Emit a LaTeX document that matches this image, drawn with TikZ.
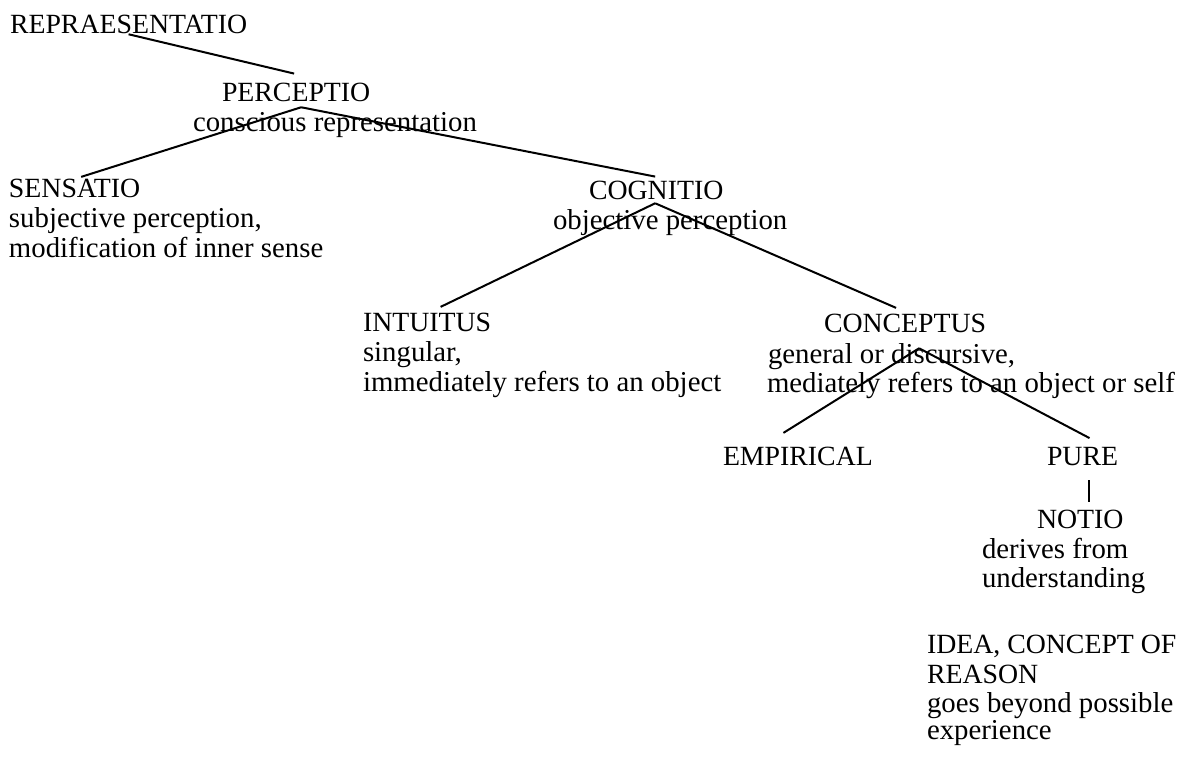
\documentclass[tikz,border=0pt]{standalone}
\usepackage{fontspec}
\setmainfont{Liberation Serif}
\usetikzlibrary{calc}
\tikzset{
  txt/.style={font=\fontsize{27.8}{30}\selectfont, inner sep=0pt, outer sep=0pt, anchor=base west},
  desc/.style={txt, font=\fontsize{28.8}{30}\selectfont},
  edge/.style={line width=2pt, black}
}
\begin{document}
\begin{tikzpicture}[x=1pt,y=-1pt]
\useasboundingbox (0,0) rectangle (1189,767);
% titles and descriptions
\node[txt] (repr) at (10,34) {REPRAESENTATIO};
\node[txt] (perc) at (222,102) {PERCEPTIO};
\node[desc] (percA) at (193,132) {conscious representation};
\node[txt] (sens) at (9,198) {SENSATIO};
\node[desc] (sensA) at (9,228) {subjective perception,};
\node[desc] (sensB) at (9,258) {modification of inner sense};
\node[txt] (cogn) at (589,200) {COGNITIO};
\node[desc] (cognA) at (553,230) {objective perception};
\node[txt] (intu) at (363,332) {INTUITUS};
\node[desc] (intuA) at (363,362) {singular,};
\node[desc] (intuB) at (363,391) {immediately refers to an object};
\node[txt] (conc) at (824,333) {CONCEPTUS};
\node[desc] (concA) at (768,363) {general or discursive,};
\node[desc] (concB) at (767,392) {mediately refers to an object or self};
\node[txt] (emp) at (723,465) {EMPIRICAL};
\node[txt] (pure) at (1047,465) {PURE};
\node[txt] (notio) at (1037,528) {NOTIO};
\node[desc] (notioA) at (982,558) {derives from};
\node[desc] (notioB) at (982,587) {understanding};
\node[txt] (idea) at (927,653) {IDEA, CONCEPT OF};
\node[txt] (ideaA) at (927,683) {REASON};
\node[desc] (ideaB) at (927,712) {goes beyond possible};
\node[desc] (ideaC) at (927,739) {experience};
% connectors
\coordinate (percFork) at ($(perc.south)+(5,5)$);
\coordinate (cognFork) at ($(cogn.south)+(-1,3)$);
\coordinate (concFork) at ($(conc.south)+(14,15)$);
\coordinate (pureLow) at ($(pure.south)+(6,15)$);
\draw[edge] (repr.south) -- ($(perc.north)+(-2,-10)$);
\draw[edge] (percFork) -- ($(sens.north)+(6.5,-2.7)$);
\draw[edge] (percFork) -- ($(cogn.north)+(-1,-5)$);
\draw[edge] (cognFork) -- ($(intu.north)+(13.5,-6.7)$);
\draw[edge] (cognFork) -- ($(conc.north)+(-9,-6.7)$);
\draw[edge] (concFork) -- ($(emp.north)+(-14.5,-13.7)$);
\draw[edge] (concFork) -- ($(pure.north)+(7,-8.7)$);
\draw[edge] (pureLow) -- ([yshift=7.7pt]notio.north -| pureLow);
\end{tikzpicture}
\end{document}
